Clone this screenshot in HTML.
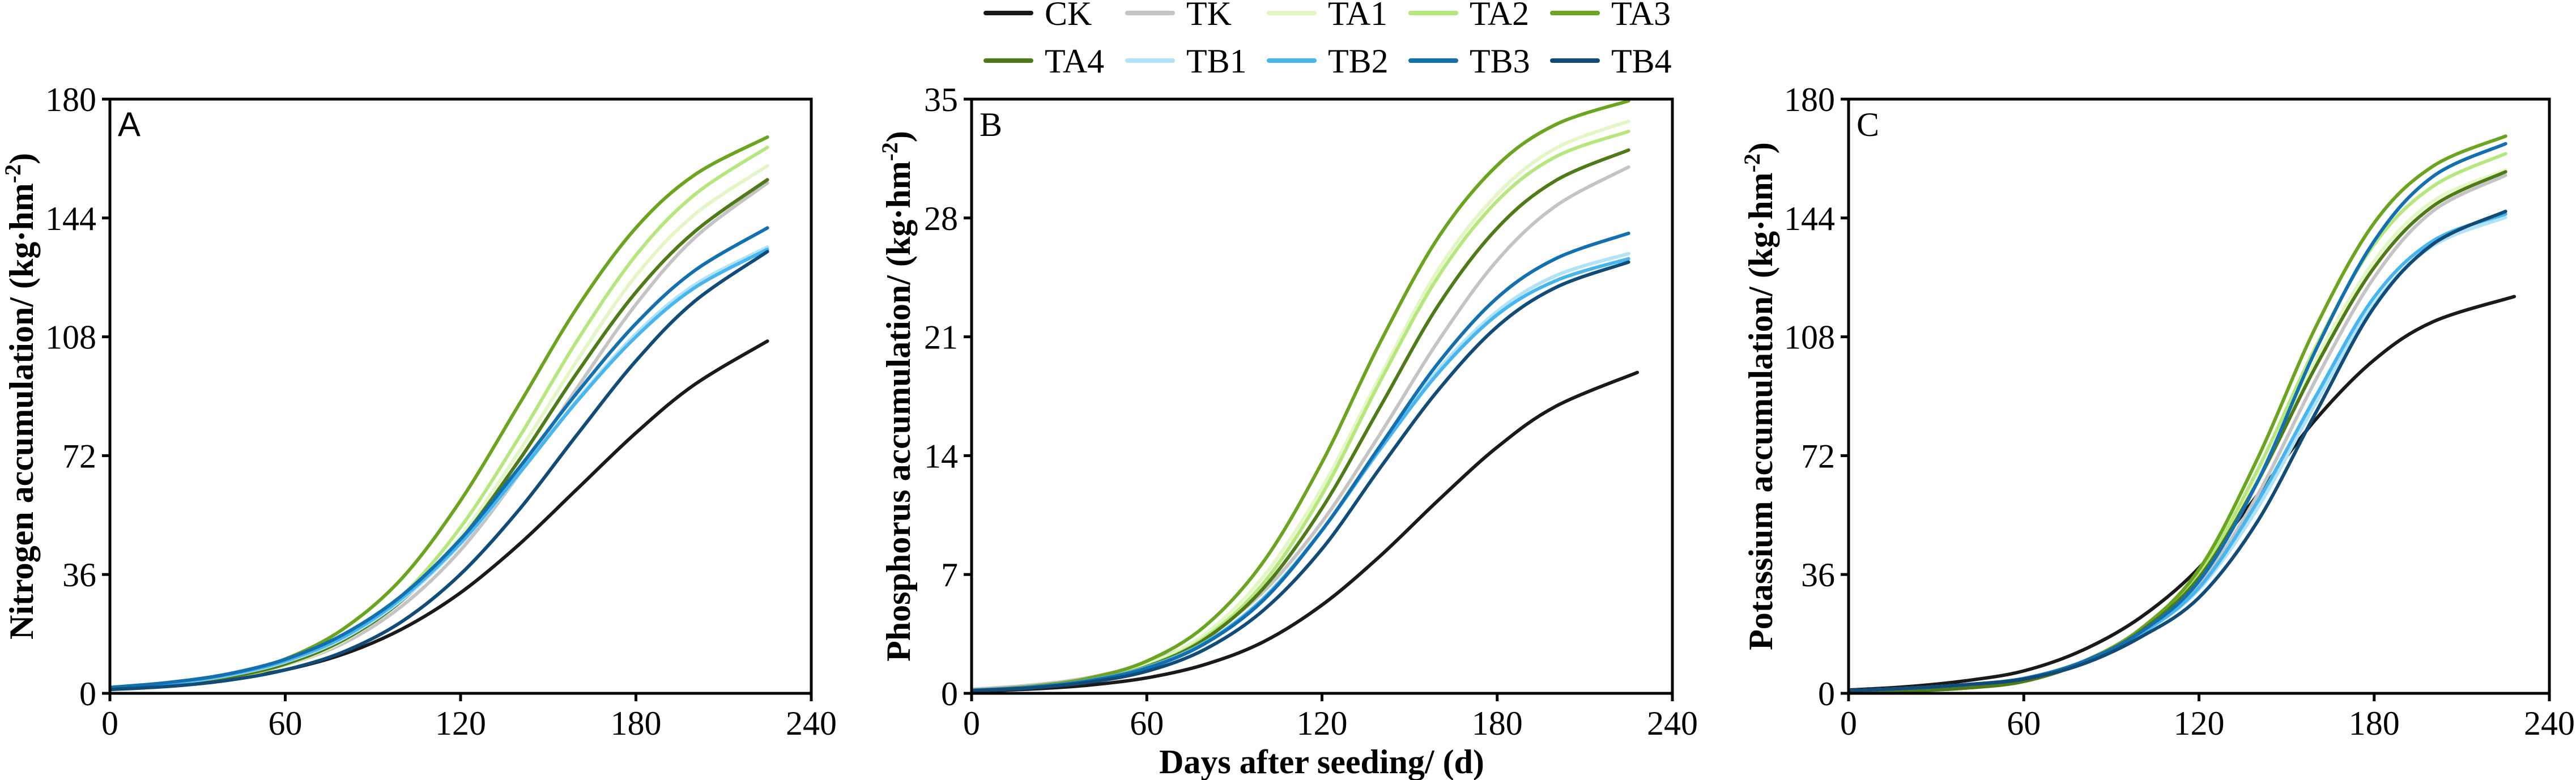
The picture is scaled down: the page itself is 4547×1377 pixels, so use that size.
<!DOCTYPE html>
<html><head><meta charset="utf-8"><style>
html,body{margin:0;padding:0;background:#fff;}
svg{display:block;}
text{font-family:"Liberation Serif",serif;fill:#000;}
</style></head><body>
<svg id="fig" width="4547" height="1377" viewBox="0 0 4547 1377" xmlns="http://www.w3.org/2000/svg">
<rect x="0" y="0" width="4547" height="1377" fill="#fff"/>
<g id="legend"></g>
<text x="2333" y="1365" text-anchor="middle" font-size="60" font-weight="bold">Days after seeding/ (d)</text>
</svg>
<script>
const seriesNames = ["CK","TK","TA1","TA2","TA3","TA4","TB1","TB2","TB3","TB4"];
const seriesColors = ["#1a1a1a","#c4c4c4","#e2f7c4","#b6e77c","#6ba51f","#4f7a18","#b0e2f8","#47b5ee","#1270b0","#114b78"];
const days = [0,20,40,60,80,100,120,140,160,180,200,225];
const daysCK = [0,20,40,60,80,100,120,140,160,180,200,228];
const xTicks = [0,60,120,180,240];
const yTicksNP = [0,36,72,108,144,180];
const yTicksP = [0,7,14,21,28,35];

const nitrogen = {
  CK:  [1.4,2.4,4.2,7.1,11.9,19.5,30.5,45.1,62,78.9,93.5,106.7],
  TK:  [1.4,2.6,4.7,8.6,15.2,26.5,43.4,66.4,92.7,117.8,137.9,154.6],
  TA1: [1.2,2.4,4.6,8.6,15.9,28.4,47.6,73.2,101,126.5,145,159.8],
  TA2: [1.2,2.3,4.5,8.7,16.3,29.6,50.3,77.5,107,132.7,151,165.4],
  TA3: [1.4,2.8,5.4,10.4,19.6,34.9,58.4,87.5,117,141,157,168.5],
  TA4: [1.4,2.6,4.8,8.9,16.2,28.2,46.5,70.6,97.3,121.5,139.8,155.6],
  TB1: [1.6,2.9,5.3,9.5,16.7,28.4,45.2,66.5,89,108.9,123.7,135.2],
  TB2: [1.7,3.0,5.5,9.8,17.1,28.9,45.6,66.6,88.6,108,122.8,134.5],
  TB3: [1.8,3.3,5.8,10.3,17.9,29.7,46.7,68.3,91.2,112,128,141],
  TB4: [1.15,2.1,3.9,7.1,12.6,21.8,36.1,55.6,78.5,100.7,118.7,133.8]
};
const phosphorus = {
  CK:  [0.13,0.25,0.48,0.91,1.7,3.04,5.2,8.1,11.4,14.5,16.9,18.9],
  TK:  [0.24,0.48,0.93,1.8,3.35,6.0,10.1,15.3,20.8,25.5,28.7,31.0],
  TA1: [0.17,0.37,0.81,1.7,3.5,6.9,12.1,18.7,25,29.4,32.1,33.7],
  TA2: [0.15,0.33,0.72,1.6,3.3,6.5,11.7,18.4,24.6,29,31.6,33.1],
  TA3: [0.18,0.40,0.88,1.9,3.97,7.76,13.6,20.7,26.9,31.1,33.5,34.9],
  TA4: [0.17,0.36,0.75,1.57,3.2,6.2,10.9,16.9,22.9,27.4,30.2,32.0],
  TB1: [0.17,0.36,0.75,1.53,3.0,5.6,9.6,14.5,19.1,22.5,24.6,25.9],
  TB2: [0.17,0.36,0.75,1.52,2.98,5.6,9.6,14.4,18.9,22.3,24.3,25.6],
  TB3: [0.17,0.35,0.73,1.48,2.94,5.5,9.6,14.6,19.5,23.3,25.6,27.1],
  TB4: [0.15,0.31,0.65,1.3,2.6,4.9,8.5,13.3,17.9,21.6,23.9,25.4]
};
const potassium = {
  CK:  [1,2,3.8,6.8,13,23,38,60,83,101,112.5,120.2],
  TK:  [0.5,1,2,4,9.2,18.5,33,60,95,126,146,156.9],
  TA1: [0.3,0.7,1.6,3.6,9.2,18.8,35,65,101,131,149,158.5],
  TA2: [0.3,0.7,1.6,3.6,9.3,19,36,67.5,105,136,153.5,163.5],
  TA3: [0.3,0.7,1.6,3.6,9.5,19.5,37.5,71,111,142.5,159.6,168.8],
  TA4: [0.3,0.7,1.6,3.6,9.2,18.8,35,64,99,129,147.5,158],
  TB1: [0.8,1.5,2.6,4.5,9.3,18,31.5,56,88,118,135.5,144.2],
  TB2: [0.8,1.5,2.6,4.5,9.3,18,32,58,90,120,137,145.2],
  TB3: [0.8,1.5,2.6,4.5,9.5,18.5,34,64,104,137,156.5,166.5],
  TB4: [0.8,1.5,2.6,4.3,8.8,17,29,52,85,117,136,146]
};

const NS = "http://www.w3.org/2000/svg";
const svg = document.getElementById("fig");
function mk(tag, attrs, parent){
  const e = document.createElementNS(NS, tag);
  for (const k in attrs) e.setAttribute(k, attrs[k]);
  (parent||svg).appendChild(e);
  return e;
}
function smoothPath(pts){
  let d = "M" + pts[0][0].toFixed(1) + "," + pts[0][1].toFixed(1);
  for (let i=0;i<pts.length-1;i++){
    const p0 = pts[i-1]||pts[i], p1 = pts[i], p2 = pts[i+1], p3 = pts[i+2]||p2;
    const c1x = p1[0]+(p2[0]-p0[0])/6, c1y = p1[1]+(p2[1]-p0[1])/6;
    const c2x = p2[0]-(p3[0]-p1[0])/6, c2y = p2[1]-(p3[1]-p1[1])/6;
    d += " C"+c1x.toFixed(1)+","+c1y.toFixed(1)+" "+c2x.toFixed(1)+","+c2y.toFixed(1)+" "+p2[0].toFixed(1)+","+p2[1].toFixed(1);
  }
  return d;
}

const panels = [
  {id:"nitrogen", letter:"A", letterFont:"Liberation Sans", left:194, right:1432, data:nitrogen, ticks:yTicksNP, ymax:180, labelX:58, label:"Nitrogen accumulation/ (kg·hm"},
  {id:"phosphorus", letter:"B", letterFont:"Liberation Serif", left:1715, right:2952, data:phosphorus, ticks:yTicksP, ymax:35, labelX:1606, label:"Phosphorus accumulation/ (kg·hm"},
  {id:"potassium", letter:"C", letterFont:"Liberation Serif", left:3263, right:4500, data:potassium, ticks:yTicksNP, ymax:180, labelX:3128, label:"Potassium accumulation/ (kg·hm"}
];
const TOP = 175, BOTTOM = 1224;

panels.forEach(p => {
  const g = mk("g", {});
  
  
  const xs = v => p.left + (v/240)*(p.right-p.left);
  const ys = v => BOTTOM - (v/p.ymax)*(BOTTOM-TOP);

  const clip = mk("clipPath", {id:"clip-"+p.id}, g);
  mk("rect", {x:p.left, y:TOP-10, width:p.right-p.left+20, height:BOTTOM-TOP+10}, clip);
  const lines = mk("g", {"clip-path":"url(#clip-"+p.id+")"}, g);
  
  
  seriesNames.forEach((s, i) => {
    const dd = s === "CK" && p.id !== "nitrogen" ? daysCK : days;
    const pts = p.data[s].map((v, j) => [xs(dd[j]), ys(v)]);
    const path = mk("path", {d:smoothPath(pts), fill:"none", stroke:seriesColors[i], "stroke-width":6, "stroke-linecap":"round"}, lines);
    
    
  });

  const frame = mk("rect", {x:p.left, y:TOP, width:p.right-p.left, height:BOTTOM-TOP, fill:"none", stroke:"#000", "stroke-width":5}, g);
  
  

  xTicks.forEach(t => {
    const x = xs(t);
    const tk = mk("line", {x1:x, x2:x, y1:BOTTOM, y2:BOTTOM+14, stroke:"#000", "stroke-width":5}, g);
    
    
    const tl = mk("text", {x:x, y:1297, "text-anchor":"middle", "font-size":60}, g);
    tl.textContent = t;
    
    
  });
  p.ticks.forEach(t => {
    const y = ys(t);
    const tk = mk("line", {x1:p.left-14, x2:p.left, y1:y, y2:y, stroke:"#000", "stroke-width":5}, g);
    
    
    const tl = mk("text", {x:p.left-24, y:y+21, "text-anchor":"end", "font-size":60}, g);
    tl.textContent = t;
    
    
  });

  const lt = mk("text", {x:p.left+14, y:240, "font-size":60, style:"font-family:'"+p.letterFont+"',sans-serif"}, g);
  lt.textContent = p.letter;
  
  

  const yl = mk("text", {x:0, y:0, "text-anchor":"middle", "font-size":60, "font-weight":"bold", transform:"translate("+p.labelX+","+((TOP+BOTTOM)/2)+") rotate(-90)"}, g);
  
  
  yl.appendChild(document.createTextNode(p.label));
  const sup = mk("tspan", {"baseline-shift":"super", "font-size":40}, yl);
  sup.textContent = "-2";
  const close = mk("tspan", {}, yl);
  close.textContent = ")";
});

const leg = document.getElementById("legend");
seriesNames.forEach((s, i) => {
  const col = i % 5, row = Math.floor(i / 5);
  const x0 = 1740 + col*250, yc = 23 + row*84;
  const eg = mk("g", {}, leg);
  
  
  mk("line", {x1:x0, x2:x0+80, y1:yc, y2:yc, stroke:seriesColors[i], "stroke-width":8, "stroke-linecap":"round"}, eg);
  const t = mk("text", {x:x0+104, y:yc+21, "font-size":60}, eg);
  t.textContent = s;
});
</script>
</body></html>
